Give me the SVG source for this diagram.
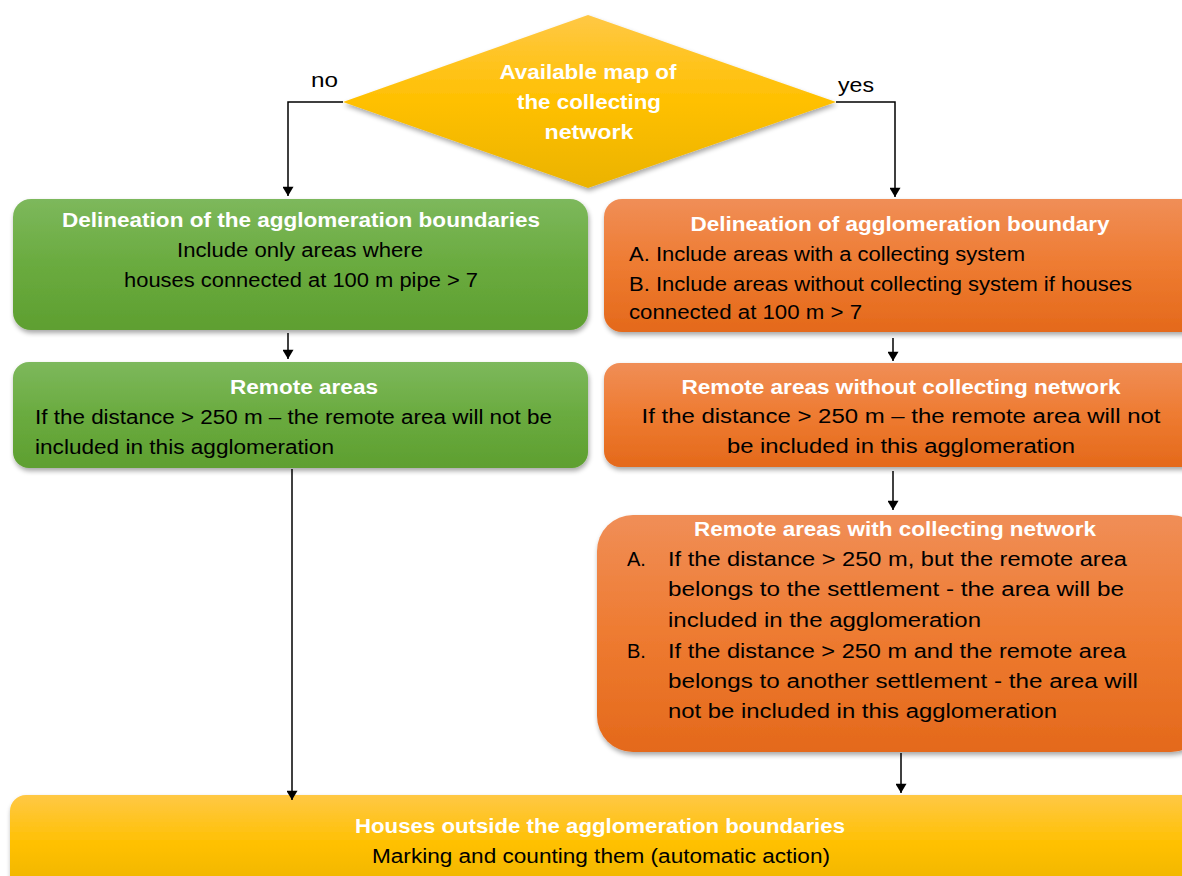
<svg xmlns="http://www.w3.org/2000/svg" width="1182" height="876" viewBox="0 0 1182 876">
<style>
text{font-family:"Liberation Sans",Arial,sans-serif;font-size:20px;fill:#000}
.t{font-weight:bold;fill:#fff}
.c{text-anchor:middle}
.lab{font-size:20px}
.con{fill:none;stroke:#000;stroke-width:1.5}
</style>
<defs>
<linearGradient id="gG" x1="0" y1="0" x2="0" y2="1"><stop offset="0" stop-color="#7db85c"/><stop offset="0.5" stop-color="#6aab3f"/><stop offset="1" stop-color="#5e9f30"/></linearGradient>
<linearGradient id="gO" x1="0" y1="0" x2="0" y2="1"><stop offset="0" stop-color="#f08e57"/><stop offset="0.5" stop-color="#ee7b31"/><stop offset="1" stop-color="#e4691b"/></linearGradient>
<linearGradient id="gY" x1="0" y1="0" x2="0" y2="1"><stop offset="0" stop-color="#ffc845"/><stop offset="0.5" stop-color="#ffc000"/><stop offset="1" stop-color="#ebb300"/></linearGradient>
<filter id="sh" x="-5%" y="-10%" width="110%" height="130%"><feGaussianBlur in="SourceAlpha" stdDeviation="2.5"/><feOffset dx="1" dy="3" result="b"/><feComponentTransfer><feFuncA type="linear" slope="0.35"/></feComponentTransfer><feMerge><feMergeNode/><feMergeNode in="SourceGraphic"/></feMerge></filter>
<marker id="ar" viewBox="0 0 10 12" refX="10" refY="6" markerWidth="13" markerHeight="11" markerUnits="userSpaceOnUse" orient="auto"><path d="M0,0 L10,6 L0,12 z" fill="#000"/></marker>
</defs>

<g id="decision">
<polygon points="588,15 836,102 588,188 343,102" fill="url(#gY)" filter="url(#sh)"/>
<text class="t c" x="588" y="79" textLength="177" lengthAdjust="spacingAndGlyphs">Available map of</text>
<text class="t c" x="589" y="109" textLength="144" lengthAdjust="spacingAndGlyphs">the collecting</text>
<text class="t c" x="589" y="139" textLength="89" lengthAdjust="spacingAndGlyphs">network</text>
</g>
<g id="label-no"><text class="lab" x="311" y="87" textLength="27" lengthAdjust="spacingAndGlyphs">no</text></g>
<g id="label-yes"><text class="lab" x="838" y="92" textLength="36" lengthAdjust="spacingAndGlyphs">yes</text></g>

<g id="green1">
<rect x="13" y="199" width="575" height="131" rx="18" fill="url(#gG)" filter="url(#sh)"/>
<text class="t c" x="301" y="227" textLength="478" lengthAdjust="spacingAndGlyphs">Delineation of the agglomeration boundaries</text>
<text class="c" x="300" y="257" textLength="246" lengthAdjust="spacingAndGlyphs">Include only areas where</text>
<text class="c" x="301" y="287" textLength="354" lengthAdjust="spacingAndGlyphs">houses connected at 100 m pipe &gt; 7</text>
</g>

<g id="green2">
<rect x="13" y="362" width="575" height="106" rx="16" fill="url(#gG)" filter="url(#sh)"/>
<text class="t c" x="304" y="394" textLength="148" lengthAdjust="spacingAndGlyphs">Remote areas</text>
<text x="35" y="424" textLength="517" lengthAdjust="spacingAndGlyphs">If the distance &gt; 250 m – the remote area will not be</text>
<text x="35" y="454" textLength="299" lengthAdjust="spacingAndGlyphs">included in this agglomeration</text>
</g>

<g id="orange1">
<rect x="604" y="199" width="600" height="133" rx="18" fill="url(#gO)" filter="url(#sh)"/>
<text class="t c" x="900" y="231" textLength="419" lengthAdjust="spacingAndGlyphs">Delineation of agglomeration boundary</text>
<text x="629" y="261" textLength="396" lengthAdjust="spacingAndGlyphs">A. Include areas with a collecting system</text>
<text x="629" y="291" textLength="503" lengthAdjust="spacingAndGlyphs">B. Include areas without collecting system if houses</text>
<text x="629" y="319" textLength="233" lengthAdjust="spacingAndGlyphs">connected at 100 m &gt; 7</text>
</g>

<g id="orange2">
<rect x="604" y="363" width="600" height="104" rx="16" fill="url(#gO)" filter="url(#sh)"/>
<text class="t c" x="901" y="394" textLength="439" lengthAdjust="spacingAndGlyphs">Remote areas without collecting network</text>
<text class="c" x="901" y="423" textLength="519" lengthAdjust="spacingAndGlyphs">If the distance &gt; 250 m – the remote area will not</text>
<text class="c" x="901" y="453" textLength="348" lengthAdjust="spacingAndGlyphs">be included in this agglomeration</text>
</g>

<g id="orange3">
<rect x="597" y="515" width="610" height="237" rx="36" fill="url(#gO)" filter="url(#sh)"/>
<text class="t c" x="895" y="536" textLength="402" lengthAdjust="spacingAndGlyphs">Remote areas with collecting network</text>
<text x="627" y="566">A.</text>
<text x="668" y="566" textLength="459" lengthAdjust="spacingAndGlyphs">If the distance &gt; 250 m, but the remote area</text>
<text x="668" y="596" textLength="456" lengthAdjust="spacingAndGlyphs">belongs to the settlement - the area will be</text>
<text x="668" y="627" textLength="313" lengthAdjust="spacingAndGlyphs">included in the agglomeration</text>
<text x="627" y="658">B.</text>
<text x="668" y="658" textLength="458" lengthAdjust="spacingAndGlyphs">If the distance &gt; 250 m and the remote area</text>
<text x="668" y="688" textLength="470" lengthAdjust="spacingAndGlyphs">belongs to another settlement - the area will</text>
<text x="668" y="718" textLength="389" lengthAdjust="spacingAndGlyphs">not be included in this agglomeration</text>
</g>

<g id="yellow">
<rect x="10" y="795" width="1200" height="100" rx="16" fill="url(#gY)" filter="url(#sh)"/>
<text class="t c" x="600" y="833" textLength="490" lengthAdjust="spacingAndGlyphs">Houses outside the agglomeration boundaries</text>
<text class="c" x="601" y="863" textLength="458" lengthAdjust="spacingAndGlyphs">Marking and counting them (automatic action)</text>
</g>

<g id="connectors">
<polyline class="con" points="343,102 288,102 288,196" marker-end="url(#ar)"/>
<polyline class="con" points="836,102 895,102 895,197" marker-end="url(#ar)"/>
<line class="con" x1="288" y1="333" x2="288" y2="359" marker-end="url(#ar)"/>
<line class="con" x1="893" y1="338" x2="893" y2="361" marker-end="url(#ar)"/>
<line class="con" x1="893" y1="471" x2="893" y2="510" marker-end="url(#ar)"/>
<line class="con" x1="292" y1="469" x2="292" y2="800" marker-end="url(#ar)"/>
<line class="con" x1="901" y1="753" x2="901" y2="793" marker-end="url(#ar)"/>
</g>
</svg>
